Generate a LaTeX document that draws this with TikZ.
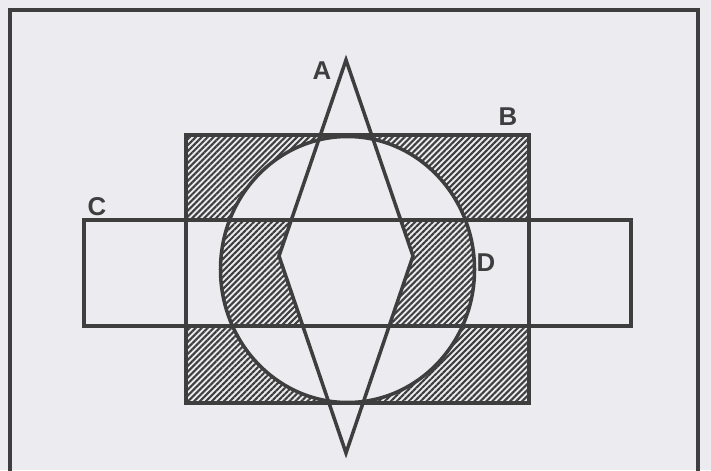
\documentclass[tikz,border=0pt]{standalone}
\usepackage{fontspec}
\setmainfont{Liberation Sans}
\usetikzlibrary{patterns.meta}
\definecolor{paper}{RGB}{236,236,240}
\definecolor{ink}{RGB}{62,62,62}
\tikzset{
  outline/.style={draw=ink,line width=3pt,line join=miter},
  hatch/.style={pattern={Lines[angle=45,distance=3.6pt,line width=1.8pt]},
                pattern color=ink},
  blank/.style={fill=paper},
  letter/.style={text=ink,font=\fontsize{22}{22}\selectfont\bfseries,inner sep=0pt},
}

\begin{document}
\begin{tikzpicture}[x=0.03cm,y=-0.03cm]
\useasboundingbox (0,0) rectangle (711,470);
\clip (0,0) rectangle (711,470);
\fill[paper] (0,0) rectangle (711,470);
% corners of the sets
\coordinate (bnw) at (186,135);  \coordinate (bse) at (529,403);
\coordinate (cnw) at (84,220);   \coordinate (cse) at (631,326);
\coordinate (dc) at (347.5,269.5);
\coordinate (atop) at (346,60);  \coordinate (abot) at (346,453);
\coordinate (aleft) at (279,256); \coordinate (aright) at (413,256);
% shaded parts
\fill[hatch] (bnw) rectangle (bse);
\fill[blank] (cnw) rectangle (cse);
\fill[blank] (dc) ellipse [x radius=127,y radius=133];
\begin{scope}
  \clip (cnw) rectangle (cse);
  \fill[hatch] (dc) ellipse [x radius=127,y radius=133];
  \clip (dc) ellipse [x radius=127,y radius=133];
  \fill[blank] (atop) -- (aright) -- (abot) -- (aleft) -- cycle;
\end{scope}
% outlines
\draw[outline,line width=3.6pt] (10,10) rectangle (698,500);
\draw[outline] (bnw) rectangle (bse);
\draw[outline] (cnw) rectangle (cse);
\draw[outline] (dc) ellipse [x radius=127,y radius=133];
\draw[outline] (atop) -- (aright) -- (abot) -- (aleft) -- cycle;
\node[letter] (labA) at (322,71) {A};
\node[letter] (labB) at (508,117) {B};
\node[letter] (labC) at (97,207) {C};
\node[letter] (labD) at (486,263) {D};
\end{tikzpicture}
\end{document}
